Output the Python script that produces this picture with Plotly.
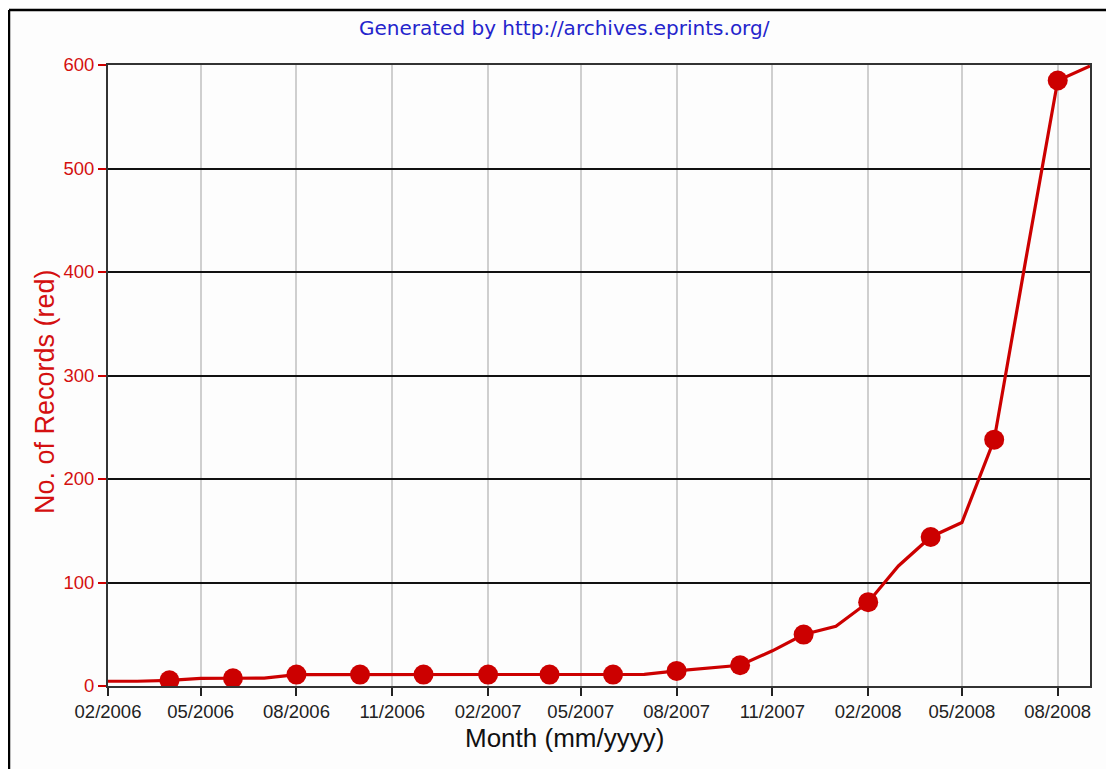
import plotly.graph_objects as go

# ---- data ----
months = [
    "2006-02-01", "2006-03-01", "2006-04-01", "2006-05-01", "2006-06-01", "2006-07-01",
    "2006-08-01", "2006-09-01", "2006-10-01", "2006-11-01", "2006-12-01",
    "2007-01-01", "2007-02-01", "2007-03-01", "2007-04-01", "2007-05-01", "2007-06-01",
    "2007-07-01", "2007-08-01", "2007-09-01", "2007-10-01", "2007-11-01", "2007-12-01",
    "2008-01-01", "2008-02-01", "2008-03-01", "2008-04-01", "2008-05-01", "2008-06-01",
    "2008-07-01", "2008-08-01", "2008-09-01",
]
records = [
    4.6, 4.6, 5.5, 7.4, 7.5, 7.6,
    11, 11, 11, 11, 11,
    11, 11, 11, 11, 11, 11,
    11.2, 14.6, 17, 20, 34, 49.7,
    57.8, 81, 116, 144, 158, 238,
    410, 585, 599,
]
# markers are drawn every second month, starting 04/2006
marker_months = months[2:31:2]
marker_records = records[2:31:2]

y_ticks = [0, 100, 200, 300, 400, 500, 600]

RED = "#CC0000"
LABEL_RED = "#D41010"
FONT = "Liberation Sans, Arial, sans-serif"

fig = go.Figure()
fig.add_trace(go.Scatter(
    x=months, y=records, mode="lines",
    line=dict(color=RED, width=3.2), hoverinfo="skip", showlegend=False,
))
fig.add_trace(go.Scatter(
    x=marker_months, y=marker_records, mode="markers",
    marker=dict(color=RED, size=20, line=dict(width=0)), showlegend=False,
))

# page offset from the HTML body margin
OFF = 8
W, H = 1114 - OFF, 769 - OFF
# plot area in page pixels
L, R, T, B = 108, 1090, 65, 686
pw, ph = R - L, B - T


def px(xp):
    return (xp - L) / pw


def py(yp):
    return (B - yp) / ph


fig.update_layout(
    width=W, height=H,
    margin=dict(l=L - OFF, r=W - (R - OFF), t=T - OFF, b=H - (B - OFF), pad=0),
    paper_bgcolor="#FDFDFD", plot_bgcolor="#FDFDFD",
    font=dict(family=FONT, size=17, color="#222222"),
    showlegend=False,
)

fig.update_xaxes(
    type="date",
    range=["2006-02-01", "2008-09-01"],
    tick0="2006-02-01", dtick="M3", tickformat="%m/%Y",
    ticks="outside", ticklen=8, tickwidth=2, tickcolor="#222222",
    tickfont=dict(family=FONT, size=18.5, color="#222222"),
    showgrid=True, gridcolor="#CFCFCF", gridwidth=2,
    showline=True, linecolor="#333333", linewidth=2, mirror=True,
    zeroline=False,
)
fig.update_yaxes(
    range=[0, 600], tickvals=y_ticks,
    ticks="outside", ticklen=8, tickwidth=2, tickcolor=RED,
    tickfont=dict(family=FONT, size=18.5, color=LABEL_RED),
    showgrid=True, gridcolor="#111111", gridwidth=2,
    showline=True, linecolor="#333333", linewidth=2, mirror=True,
    zeroline=False,
)

annotations = [
    dict(text="Generated by http://archives.eprints.org/", x=px(564.5), y=py(28),
         xref="paper", yref="paper", xanchor="center", yanchor="middle", showarrow=False,
         font=dict(family="DejaVu Sans, Verdana, sans-serif", size=20, color="#2424CC")),
    dict(text="Month (mm/yyyy)", x=px(564), y=py(738),
         xref="paper", yref="paper", xanchor="center", yanchor="middle", showarrow=False,
         font=dict(family=FONT, size=26, color="#111111")),
    dict(text="No. of Records (red)", x=px(45), y=py(392), textangle=-90,
         xref="paper", yref="paper", xanchor="center", yanchor="middle", showarrow=False,
         font=dict(family=FONT, size=27, color=LABEL_RED)),
]
fig.update_layout(annotations=annotations)

# outer frame (top and left border lines of the image)
fig.add_shape(type="line", xref="paper", yref="paper",
              x0=px(9), x1=px(1125), y0=py(10), y1=py(10),
              line=dict(color="#000000", width=2.5))
fig.add_shape(type="line", xref="paper", yref="paper",
              x0=px(9), x1=px(9), y0=py(10), y1=py(780),
              line=dict(color="#000000", width=2.5))

fig.write_html("out.html")
